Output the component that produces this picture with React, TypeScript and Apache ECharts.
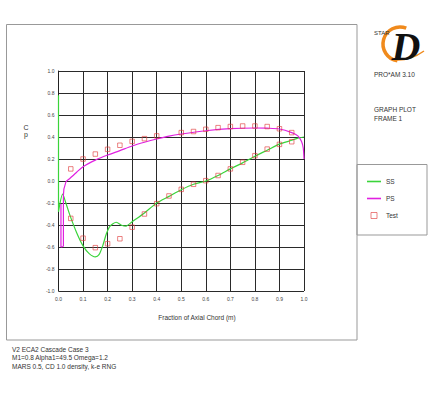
import React, { useEffect, useRef } from "react";
import * as echarts from "echarts";

const xTicks = [0, 0.1, 0.2, 0.3, 0.4, 0.5, 0.6, 0.7, 0.8, 0.9, 1.0];
const yTicks = [-1.0, -0.8, -0.6, -0.4, -0.2, 0.0, 0.2, 0.4, 0.6, 0.8, 1.0];

const ssX = [0, 0, 0.017, 0.03, 0.047, 0.074, 0.1, 0.125, 0.15, 0.165, 0.18, 0.195, 0.21, 0.235, 0.26, 0.275, 0.3, 0.35, 0.4, 0.45, 0.5, 0.55, 0.6, 0.65, 0.7, 0.75, 0.8, 0.85, 0.9, 0.95, 0.975, 1.0];
const ssY = [0.78, -0.28, -0.12, -0.2, -0.315, -0.47, -0.59, -0.66, -0.69, -0.67, -0.59, -0.48, -0.41, -0.375, -0.405, -0.41, -0.37, -0.29, -0.2, -0.14, -0.08, -0.03, 0.0, 0.05, 0.11, 0.165, 0.225, 0.28, 0.335, 0.37, 0.39, 0.4];

const psX = [0.01, 0.01, 0.02, 0.02, 0.03, 0.047, 0.074, 0.1, 0.15, 0.2, 0.25, 0.3, 0.35, 0.4, 0.45, 0.5, 0.6, 0.7, 0.8, 0.85, 0.9, 0.95, 0.975, 0.99, 0.997, 1.0];
const psY = [-0.21, -0.6, -0.59, -0.13, -0.01, 0.025, 0.08, 0.13, 0.19, 0.236, 0.276, 0.318, 0.352, 0.382, 0.408, 0.427, 0.457, 0.476, 0.482, 0.48, 0.473, 0.44, 0.41, 0.36, 0.3, 0.2];

const testUpperX = [0.05, 0.1, 0.15, 0.2, 0.25, 0.3, 0.35, 0.4, 0.5, 0.55, 0.6, 0.65, 0.7, 0.75, 0.8, 0.85, 0.9, 0.95];
const testUpperY = [0.11, 0.2, 0.245, 0.288, 0.325, 0.36, 0.385, 0.41, 0.44, 0.45, 0.47, 0.485, 0.495, 0.5, 0.5, 0.495, 0.475, 0.44];
const testLowerX = [0.05, 0.1, 0.15, 0.2, 0.25, 0.3, 0.35, 0.4, 0.45, 0.5, 0.55, 0.6, 0.65, 0.7, 0.75, 0.8, 0.85, 0.9, 0.95];
const testLowerY = [-0.34, -0.52, -0.606, -0.57, -0.525, -0.42, -0.3, -0.206, -0.136, -0.076, -0.03, 0.003, 0.05, 0.11, 0.17, 0.23, 0.29, 0.333, 0.357];

const bottomNotes = [
  "V2 ECA2 Cascade Case 3",
  "M1=0.8 Alpha1=49.5 Omega=1.2",
  "MARS 0.5, CD 1.0 density, k-e RNG",
];

const FONT = "'Liberation Sans', Arial, Helvetica, sans-serif";

const zip = (xs: number[], ys: number[]) => xs.map((x, i) => [x, ys[i]]);

export default function App() {
  const ref = useRef<HTMLDivElement>(null);
  useEffect(() => {
    document.body.style.margin = "0";
    const chart = echarts.init(ref.current!, null, { renderer: "svg" });
    const fmt = (v: number) => (Math.abs(v) < 1e-9 ? "0.0" : v.toFixed(1));
    const testData = [...zip(testUpperX, testUpperY), ...zip(testLowerX, testLowerY)];
    const txt = (text: string, x: number, y: number, size = 6.5, align = "left", z = 3) => ({
      type: "text",
      x,
      y,
      z,
      style: { text, fontSize: size, fill: "#333", textAlign: align, textVerticalAlign: "middle", fontFamily: FONT },
    });
    chart.setOption({
      animation: false,
      backgroundColor: "#ffffff",
      textStyle: { fontFamily: FONT },
      grid: { left: 58.5, right: 130, top: 71, bottom: 108, containLabel: false },
      xAxis: {
        type: "value",
        min: xTicks[0],
        max: xTicks[xTicks.length - 1],
        interval: 0.1,
        axisLine: { show: true, lineStyle: { color: "#222", width: 1 } },
        axisTick: { show: false },
        axisLabel: { fontSize: 5, color: "#444", margin: 5, formatter: fmt },
        splitLine: { show: true, lineStyle: { color: "#2a2a2a", width: 1 } },
      },
      yAxis: {
        type: "value",
        min: yTicks[0],
        max: yTicks[yTicks.length - 1],
        interval: 0.2,
        axisLine: { show: true, lineStyle: { color: "#222", width: 1 } },
        axisTick: { show: false },
        axisLabel: { fontSize: 5, color: "#444", margin: 4, formatter: fmt },
        splitLine: { show: true, lineStyle: { color: "#2a2a2a", width: 1 } },
      },
      legend: {
        orient: "vertical",
        left: 362,
        top: 173,
        itemWidth: 14,
        itemHeight: 6,
        itemGap: 10,
        textStyle: { fontSize: 6.5, color: "#333", fontFamily: FONT },
        data: [
          { name: "SS", icon: "path://M0,4.2H14V5.8H0Z", itemStyle: { color: "#3ad43a" } },
          { name: "PS", icon: "path://M0,4.2H14V5.8H0Z", itemStyle: { color: "#e020e0" } },
          {
            name: "Test",
            icon: "path://M0,0H10V10H0Z",
            itemStyle: { color: "rgba(0,0,0,0)", borderColor: "#e03c3c", borderWidth: 0.8 },
          },
        ],
      },
      series: [
        {
          name: "SS",
          type: "line",
          data: zip(ssX, ssY),
          showSymbol: false,
          symbol: "none",
          smooth: 0.25,
          lineStyle: { color: "#3ad43a", width: 1.2 },
          itemStyle: { color: "#3ad43a" },
          z: 3,
        },
        {
          name: "PS",
          type: "line",
          data: zip(psX, psY),
          showSymbol: false,
          symbol: "none",
          smooth: 0.25,
          lineStyle: { color: "#e020e0", width: 1.2 },
          itemStyle: { color: "#e020e0" },
          z: 3,
        },
        {
          name: "Test",
          type: "scatter",
          data: testData,
          symbol: "rect",
          symbolSize: 4.5,
          itemStyle: { color: "rgba(0,0,0,0)", borderColor: "#e03c3c", borderWidth: 0.8 },
          z: 4,
        },
      ],
      graphic: [
        { type: "rect", shape: { x: 6.5, y: 24.5, width: 350.5, height: 315.5 }, style: { fill: "none", stroke: "#999", lineWidth: 1 }, silent: true, z: -1 },
        { type: "rect", shape: { x: 357, y: 164.5, width: 70, height: 70.5 }, style: { fill: "none", stroke: "#999", lineWidth: 1 }, silent: true, z: -1 },
        txt("C", 26, 127, 7, "center"),
        txt("p", 26, 134, 7, "center"),
        txt("Fraction of Axial Chord (m)", 197, 317, 6.5, "center"),
        ...bottomNotes.map((t, i) => txt(t, 12, 349 + i * 8.7)),
        // logo
        {
          type: "arc",
          shape: { cx: 400, cy: 44, r: 17, startAngle: -Math.PI * 0.38, endAngle: Math.PI * 0.55, clockwise: false },
          style: { stroke: "#f08a1c", lineWidth: 3.5, fill: "none" },
          silent: true,
          z: 1,
        },
        {
          type: "bezierCurve",
          shape: { x1: 395, y1: 60, x2: 424, y2: 51, cpx1: 410, cpy1: 61 },
          style: { stroke: "#f08a1c", lineWidth: 1.5, fill: "none" },
          silent: true,
          z: 1,
        },
        {
          type: "text",
          x: 406,
          y: 46,
          z: 2,
          style: { text: "D", fontSize: 40, fontStyle: "italic", fontWeight: "bold", fill: "#111", textAlign: "center", textVerticalAlign: "middle", fontFamily: "'Liberation Serif', 'DejaVu Serif', serif" },
        },
        txt("STAR", 374, 33, 6, "left", 4),
        txt("PRO*AM 3.10", 374, 74),
        txt("GRAPH PLOT", 374, 109),
        txt("FRAME 1", 374, 118),
      ],
    });
    return () => chart.dispose();
  }, []);
  return <div ref={ref} style={{ position: "absolute", left: 0, top: 0, width: 434, height: 399 }} />;
}
